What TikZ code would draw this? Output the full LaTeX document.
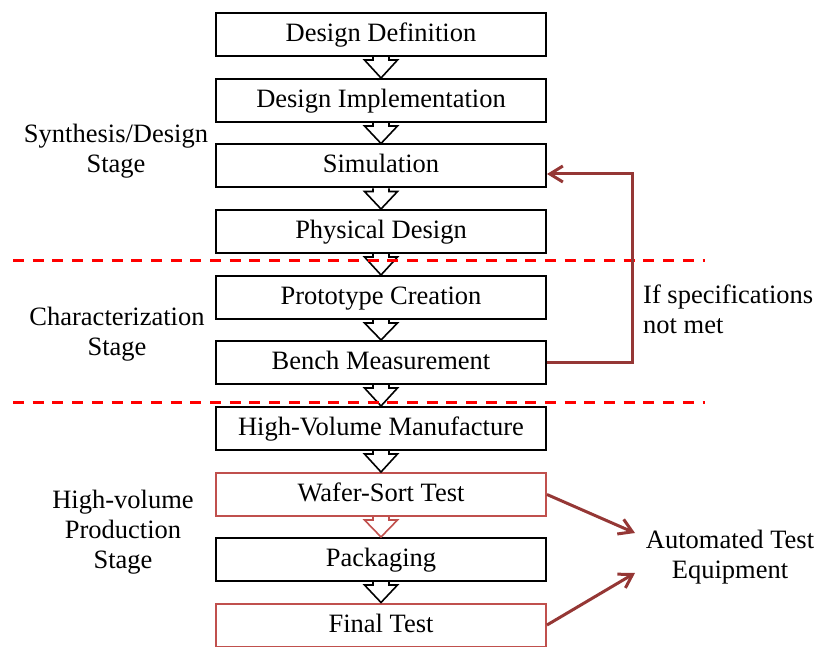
\documentclass[tikz,border=0pt]{standalone}
\usepackage{fontspec}
\setmainfont{Liberation Serif}
\usetikzlibrary{arrows.meta}
\definecolor{darkred}{HTML}{953735}
\definecolor{boxred}{HTML}{C0504D}
\begin{document}
\begin{tikzpicture}[x=1pt,y=-1pt,
  lbl/.style={font=\fontsize{26.5}{30}\selectfont, inner sep=0pt, align=center},
  stepbox/.style={draw=black, line width=2pt, minimum width=330pt, minimum height=43pt, inner sep=0pt, text height=18pt, text depth=4pt, font=\fontsize{26.5}{30}\selectfont},
  redbox/.style={stepbox, draw=boxred},
  barrow/.style={draw=black, line width=1.6pt, line join=miter},
  redbarrow/.style={barrow, draw=boxred},
  fb/.style={draw=darkred, line width=3pt, -{Straight Barb[length=13pt,width=16pt]}},
  dashline/.style={draw=red, line width=3pt, dash pattern=on 11pt off 8.7pt}
]
\useasboundingbox (0,0) rectangle (819,647);

% boxes
\node[stepbox] (dd) at (381,34.5) {Design Definition};
\node[stepbox] (di) at (381,100.5) {Design Implementation};
\node[stepbox] (sim) at (381,166) {Simulation};
\node[stepbox] (pd) at (381,231.5) {Physical Design};
\node[stepbox] (pc) at (381,297.5) {Prototype Creation};
\node[stepbox] (bm) at (381,362.5) {Bench Measurement};
\node[stepbox] (hv) at (381,428.5) {High-Volume Manufacture};
\node[redbox] (ws) at (381,494.5) {Wafer-Sort Test};
\node[stepbox] (pk) at (381,559.5) {Packaging};
\node[redbox] (ft) at (381,625) {Final Test};

% block arrows
\foreach \a/\b/\s in {dd/di/barrow, di/sim/barrow, sim/pd/barrow, pd/pc/barrow, pc/bm/barrow, bm/hv/barrow, hv/ws/barrow, ws/pk/redbarrow, pk/ft/barrow}{
  \draw[\s] ([xshift=-8pt]\a.south) -- ([xshift=-8pt,yshift=-3pt]\a.south)
     -- ([xshift=-16.5pt,yshift=-3pt]\a.south) -- (\b.north)
     -- ([xshift=16.5pt,yshift=-3pt]\a.south) -- ([xshift=8pt,yshift=-3pt]\a.south)
     -- ([xshift=8pt]\a.south);
}

% dashed stage separators
\draw[dashline] (13,260) -- (705,260);
\draw[dashline] (13,402.5) -- (705,402.5);

% stage labels
\node[lbl] (s1) at (116,151) {Synthesis/Design\\Stage};
\node[lbl] (s2) at (117,334) {Characterization\\Stage};
\node[lbl] (s3) at (123,532) {High-volume\\Production\\Stage};

% feedback loop
\coordinate (fbx) at (632,260);
\draw[fb] (bm.east) -| (fbx) |- ([yshift=-8pt]sim.east);
\node[lbl, align=left, anchor=west] (ifs) at (643,309) {If specifications\\not met};

% ATE
\node[lbl] (ate) at (730,557) {Automated Test\\Equipment};
\coordinate (ate1) at (635,533);
\coordinate (ate2) at (635,573);
\draw[fb] (ws.east) -- (ate1);
\draw[fb] (ft.east) -- (ate2);
\end{tikzpicture}
\end{document}
